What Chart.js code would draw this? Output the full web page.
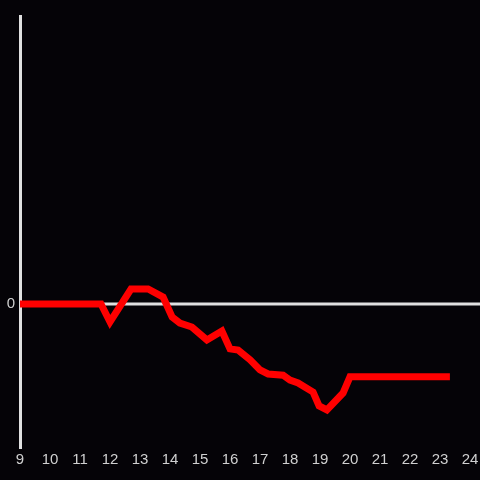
<!DOCTYPE html>
<html>
<head>
<meta charset="utf-8">
<script src="https://cdn.jsdelivr.net/npm/chart.js@4/dist/chart.umd.min.js"></script>
<style>
html,body{margin:0;padding:0;background:#050307;}
#c{display:block;}
</style>
</head>
<body>
<canvas id="c" width="480" height="480"></canvas>
<script>
const hours = [9, 11.7, 12.0, 12.7, 13.27, 13.77, 14.07, 14.33, 14.73, 15.23, 15.73, 16.0, 16.27, 16.67, 17.0, 17.27, 17.77, 18.0, 18.27, 18.77, 18.97, 19.23, 19.77, 20.0, 23.33];
const values = [0, 0, -0.0625, 0.052, 0.052, 0.024, -0.045, -0.066, -0.08, -0.125, -0.094, -0.156, -0.16, -0.194, -0.229, -0.243, -0.247, -0.264, -0.274, -0.306, -0.354, -0.368, -0.309, -0.253, -0.253];
const xTicks = [9,10,11,12,13,14,15,16,17,18,19,20,21,22,23,24];
const yTicks = [0];

const zeroLine = {
  id: 'zeroLine',
  beforeDatasetsDraw(chart) {
    const {ctx, chartArea, scales} = chart;
    const y = scales.y.getPixelForValue(0);
    ctx.save();
    ctx.strokeStyle = '#e0e0e0';
    ctx.lineWidth = 3;
    ctx.beginPath();
    ctx.moveTo(chartArea.left, y);
    ctx.lineTo(chart.width, y);
    ctx.stroke();
    ctx.restore();
  }
};

new Chart(document.getElementById('c'), {
  type: 'line',
  data: {
    datasets: [{
      data: hours.map((h, i) => ({x: h, y: values[i]})),
      borderColor: '#ff0000',
      borderWidth: 7,
      pointRadius: 0,
      tension: 0,
      fill: false,
      borderCapStyle: 'butt'
    }]
  },
  options: {
    responsive: false,
    animation: false,
    layout: {padding: {top: 16, right: 10, left: 0, bottom: 0}},
    plugins: {legend: {display: false}, tooltip: {enabled: false}},
    scales: {
      x: {
        type: 'linear', min: 9, max: 24,
        afterBuildTicks(s) { s.ticks = xTicks.map(v => ({value: v})); },
        afterFit(s) { s.height = 32; s.paddingLeft = 0; s.paddingRight = 0; },
        grid: {display: false, drawTicks: false},
        border: {display: false},
        ticks: {color: '#d0d0d0', padding: 3, font: {family: 'Liberation Sans', size: 15}, maxRotation: 0, autoSkip: false}
      },
      y: {
        min: -0.5, max: 1,
        afterBuildTicks(s) { s.ticks = yTicks.map(v => ({value: v})); },
        afterFit(s) { s.width = 20; s.paddingTop = 0; s.paddingBottom = 0; },
        grid: {display: false, drawTicks: false},
        border: {display: true, color: '#e0e0e0', width: 3},
        ticks: {color: '#d0d0d0', padding: 5, font: {family: 'Liberation Sans', size: 15}}
      }
    }
  },
  plugins: [zeroLine]
});
</script>
</body>
</html>
